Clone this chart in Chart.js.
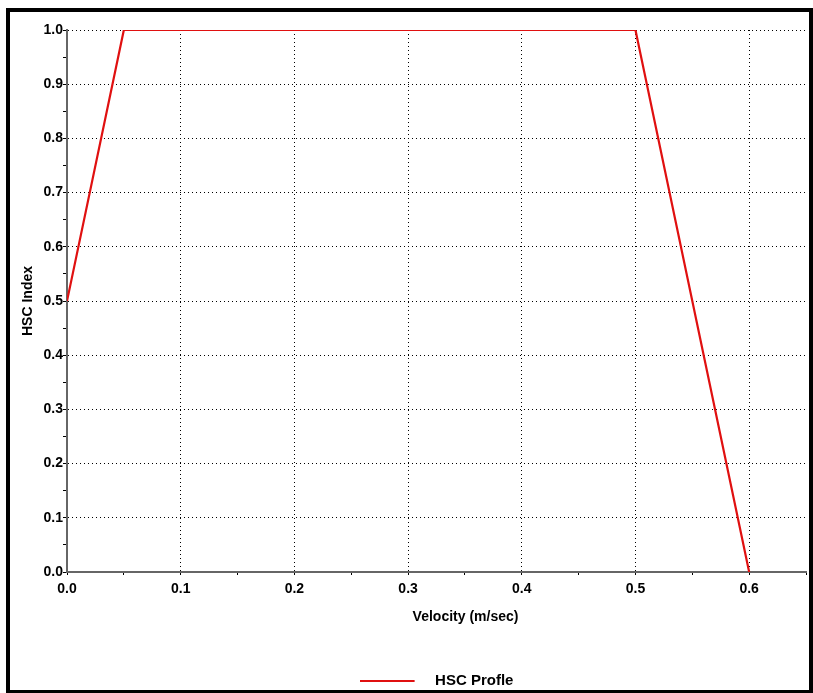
<!DOCTYPE html>
<html>
<head>
<meta charset="utf-8">
<title>HSC Profile</title>
<script src="https://cdn.jsdelivr.net/npm/chart.js@4"></script>
<style>
  html, body { margin: 0; padding: 0; background: #fff; overflow: hidden; }
  #frame {
    position: absolute; left: 6px; top: 8px;
    width: 799px; height: 678px;
    border: 4px solid #000;
    overflow: hidden;
  }
  #chart { display: block; }
</style>
</head>
<body>
<div id="frame"><canvas id="chart" width="799" height="678"></canvas></div>
<script>
// HSC profile: index against velocity
const velocity = [0.0, 0.05, 0.5, 0.6];
const hscIndex = [0.5, 1.0, 1.0, 0.0];
const seriesName = 'HSC Profle';
const xTitle = 'Velocity (m/sec)';
const yTitle = 'HSC Index';

const FONT = 'Liberation Sans, Arial, Helvetica, sans-serif';
const RED = '#e01010';

// only every second 0.05 step gets a label and a grid line
function isMajor(v) {
    return Math.round(v * 20) % 2 === 0;
}

// legend swatch: short red line followed by blank space before the text
const swatch = document.createElement('canvas');
swatch.width = 68;
swatch.height = 4;
const sctx = swatch.getContext('2d');
sctx.strokeStyle = RED;
sctx.lineWidth = 2;
sctx.beginPath();
sctx.moveTo(0, 2);
sctx.lineTo(55, 2);
sctx.stroke();

// nudge the legend right/down and draw the x title a bit right of centre
const layoutTweaks = {
    id: 'layoutTweaks',
    afterLayout(chart) {
        if (chart.legend) {
            chart.legend.left += 57;
            chart.legend.top += 8.5;
        }
        const sx = chart.scales.x;
        if (sx && !sx._titleShifted) {
            const drawTitle = sx.drawTitle;
            sx.drawTitle = function() {
                this.left += 58;
                drawTitle.call(this);
                this.left -= 58;
            };
            sx._titleShifted = true;
        }
    }
};

const ctx = document.getElementById('chart');

new Chart(ctx, {
    type: 'line',
    data: {
        datasets: [{
            label: seriesName,
            data: velocity.map((v, i) => ({ x: v, y: hscIndex[i] })),
            borderColor: RED,
            backgroundColor: RED,
            borderWidth: 2.2,
            pointRadius: 0,
            pointHoverRadius: 0,
            tension: 0,
            fill: false
        }]
    },
    options: {
        responsive: false,
        animation: false,
        devicePixelRatio: 1,
        layout: {
            autoPadding: false,
            padding: { top: 18, right: 3, left: 0, bottom: 0 }
        },
        scales: {
            x: {
                type: 'linear',
                min: 0,
                max: 0.65,
                afterFit: function(scale) {
                    scale.height = 83;
                    scale.paddingRight = 0;
                },
                ticks: {
                    stepSize: 0.05,
                    autoSkip: false,
                    maxRotation: 0,
                    padding: 6,
                    color: '#000',
                    font: { family: FONT, size: 14, weight: 'bold' },
                    callback: function(v) { return isMajor(v) ? v.toFixed(1) : ''; }
                },
                grid: {
                    color: function(c) { return c.tick && isMajor(c.tick.value) ? '#000' : 'rgba(0,0,0,0)'; },
                    tickColor: '#000',
                    tickLength: 3,
                    lineWidth: 1
                },
                border: { color: '#666', width: 2, dash: [1, 3] },
                title: {
                    display: true,
                    text: xTitle,
                    color: '#000',
                    font: { family: FONT, size: 14, weight: 'bold' },
                    padding: { top: 0, bottom: 29 }
                }
            },
            y: {
                type: 'linear',
                min: 0,
                max: 1,
                afterFit: function(scale) { scale.width = 57; },
                ticks: {
                    stepSize: 0.05,
                    autoSkip: false,
                    padding: 0,
                    color: '#000',
                    font: { family: FONT, size: 14, weight: 'bold' },
                    callback: function(v) { return isMajor(v) ? v.toFixed(1) : ''; }
                },
                grid: {
                    color: function(c) { return c.tick && isMajor(c.tick.value) ? '#000' : 'rgba(0,0,0,0)'; },
                    tickColor: '#000',
                    tickLength: 4,
                    lineWidth: 1
                },
                border: { color: '#666', width: 2, dash: [1, 3] },
                title: {
                    display: true,
                    text: yTitle,
                    color: '#000',
                    font: { family: FONT, size: 14, weight: 'bold' },
                    padding: { top: 10, bottom: 0 }
                }
            }
        },
        plugins: {
            legend: {
                position: 'bottom',
                labels: {
                    usePointStyle: true,
                    pointStyle: swatch,
                    pointStyleWidth: 68,
                    padding: 10,
                    color: '#000',
                    font: { family: FONT, size: 15, weight: 'bold' }
                }
            },
            tooltip: { enabled: false }
        }
    },
    plugins: [layoutTweaks]
});
</script>
</body>
</html>
